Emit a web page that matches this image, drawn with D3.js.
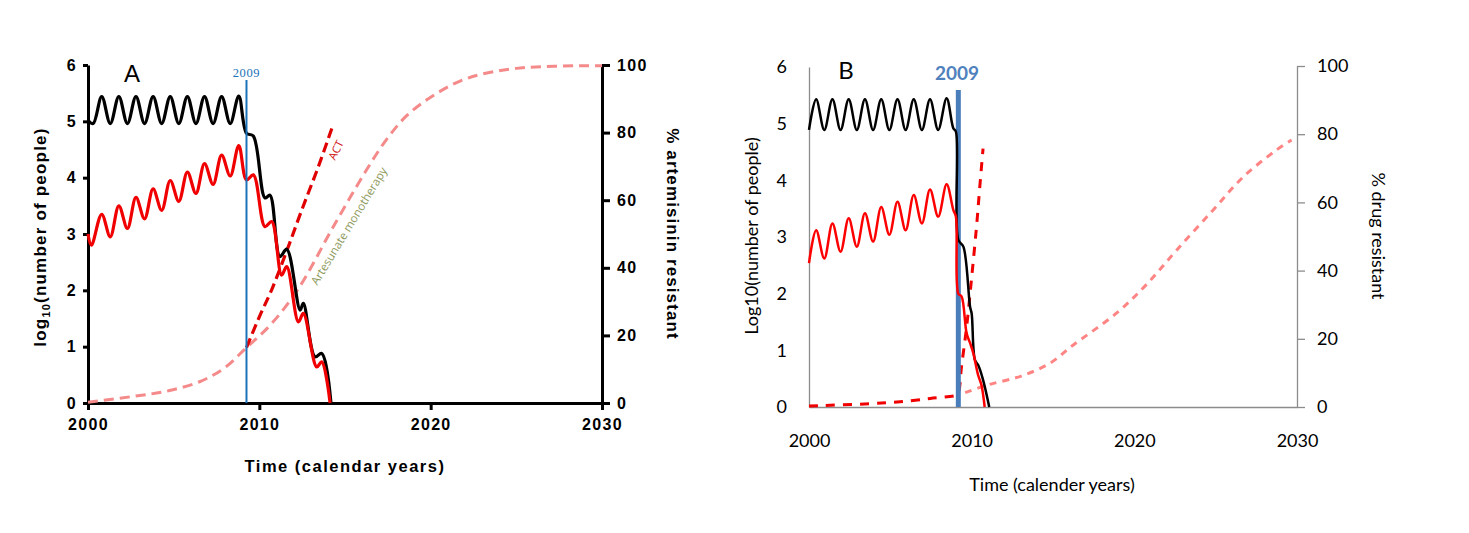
<!DOCTYPE html>
<html>
<head>
<meta charset="utf-8">
<script src="https://cdn.jsdelivr.net/npm/d3@7"></script>
<style>
  body { margin: 0; background: #fff; }
  .pa text { font-family: "Liberation Sans", Arial, sans-serif; }
  .pb text { font-family: Lato, "Open Sans", sans-serif; }
</style>
</head>
<body>
<div class="canvas"></div>
<script>
// ---- data ----
// panel A : log10(number of people), left axis
const aBlackYears = [2000, 2000.3, 2000.8, 2001.3, 2001.8, 2002.3, 2002.8, 2003.3, 2003.8, 2004.3, 2004.8, 2005.3, 2005.8, 2006.3, 2006.8, 2007.3, 2007.8, 2008.3, 2008.8, 2009.25, 2009.65, 2010.33, 2010.62, 2011.2, 2011.6, 2012.38, 2012.57, 2013.25, 2013.64, 2014.18]
const aBlack = [5.02, 4.96, 5.44, 4.96, 5.44, 4.96, 5.44, 4.96, 5.44, 4.96, 5.44, 4.96, 5.44, 4.96, 5.44, 4.96, 5.44, 4.96, 5.45, 4.79, 4.74, 3.64, 3.69, 2.6, 2.73, 1.65, 1.77, 0.82, 0.88, 0]
const aRedYears = [2000, 2000.2, 2000.8, 2001.3, 2001.8, 2002.3, 2002.8, 2003.3, 2003.8, 2004.3, 2004.8, 2005.3, 2005.8, 2006.3, 2006.8, 2007.3, 2007.8, 2008.3, 2008.8, 2009.25, 2009.65, 2010.33, 2010.72, 2011.3, 2011.6, 2012.28, 2012.57, 2013.35, 2013.64, 2014.13]
const aRed = [3.0, 2.8, 3.35, 2.95, 3.5, 3.1, 3.65, 3.27, 3.8, 3.42, 3.95, 3.58, 4.1, 3.72, 4.25, 3.88, 4.4, 4.03, 4.57, 3.96, 4.05, 3.13, 3.22, 2.27, 2.42, 1.44, 1.59, 0.64, 0.73, 0]
// panel A : % resistant, right axis
const aActYears = [2009.25, 2010, 2010.72, 2011.6, 2012.47, 2013.45, 2014.23]
const aAct = [16.4, 25.5, 33.5, 45, 57, 70, 81.2]
const aMonoYears = [2000, 2002.7, 2004.7, 2006.6, 2008, 2009.25, 2010.7, 2012.3, 2014.3, 2016.26, 2017.43, 2018.6, 2020.16, 2022.1, 2025, 2030]
const aMono = [0.2, 2, 3.6, 6.5, 10.5, 16.4, 23.4, 34, 52, 69, 78, 85, 91, 96, 99, 99.8]

// panel B : log10(number of people), left axis
const bBlackYears = [2000, 2000.44, 2000.94, 2001.44, 2001.94, 2002.44, 2002.94, 2003.44, 2003.94, 2004.44, 2004.94, 2005.44, 2005.94, 2006.44, 2006.94, 2007.44, 2007.94, 2008.46, 2008.87, 2009.03, 2009.18, 2009.49, 2009.9, 2010.0, 2010.2, 2010.4, 2010.7, 2011.08]
const bBlack = [4.89, 5.43, 4.89, 5.43, 4.89, 5.43, 4.89, 5.43, 4.89, 5.43, 4.89, 5.43, 4.89, 5.43, 4.89, 5.43, 4.89, 5.45, 4.92, 4.86, 2.95, 2.83, 1.77, 1.65, 0.83, 0.74, 0.48, 0]
const bRedYears = [2000, 2000.44, 2000.94, 2001.44, 2001.94, 2002.44, 2002.94, 2003.44, 2003.94, 2004.44, 2004.94, 2005.44, 2005.94, 2006.44, 2006.94, 2007.44, 2007.94, 2008.46, 2008.87, 2009.03, 2009.18, 2009.38, 2009.69, 2009.9, 2010.1, 2010.4, 2010.6, 2010.8]
const bRed = [2.54, 3.12, 2.62, 3.24, 2.74, 3.33, 2.83, 3.42, 2.92, 3.53, 3.04, 3.62, 3.12, 3.74, 3.24, 3.84, 3.36, 3.93, 3.48, 3.36, 2.0, 1.95, 1.3, 1.13, 0.95, 0.56, 0.39, 0]
// panel B : % resistant, right axis
const bActYears = [2000, 2005, 2007.45, 2009.07, 2009.18, 2009.38, 2009.69, 2010, 2010.3, 2010.5, 2010.7]
const bAct = [0.3, 1.3, 2.5, 3.5, 4, 12, 23.5, 38, 53, 64.6, 75.8]
const bMonoYears = [2009.6, 2011, 2013, 2014.8, 2016.25, 2018.9, 2020.76, 2022.6, 2024.85, 2026.7, 2028.75, 2029.67]
const bMono = [4.2, 6.5, 9, 12.8, 18.2, 27.5, 36, 46, 57.8, 67.5, 75.4, 78.3]

// ticks
const yearTicks = [2000, 2010, 2020, 2030]
const logTicks = [0, 1, 2, 3, 4, 5, 6]
const pctTicks = [0, 20, 40, 60, 80, 100]
const aMarkYear = 2009.25
const bMarkYear = 2009.18

const zip = (xs, ys) => xs.map((x, i) => ({ x, y: ys[i] }))
const smooth = d3.curveCatmullRom.alpha(0.5)

const svg = d3.select('.canvas')
    .append('svg')
    .attr('width', 1469)
    .attr('height', 533)

// ================= panel A =================
const pa = svg.append('g').attr('class', 'pa')

const xA = d3.scaleLinear().domain([2000, 2030]).range([88, 602])
const yA = d3.scaleLinear().domain([0, 6]).range([403, 65])
const rA = d3.scaleLinear().domain([0, 100]).range([403, 65])

const lineA = d3.line().x(d => xA(d.x)).y(d => yA(d.y)).curve(smooth)
const pctA = d3.line().x(d => xA(d.x)).y(d => rA(d.y)).curve(smooth)

// axes
pa.append('g').attr('transform', 'translate(0,403)')
    .call(d3.axisBottom(xA).tickValues(yearTicks).tickFormat(d3.format('d')).tickSize(7).tickSizeOuter(0).tickPadding(9))
pa.append('g').attr('transform', 'translate(88,0)')
    .call(d3.axisLeft(yA).tickValues(logTicks).tickFormat(d3.format('d')).tickSize(5).tickSizeOuter(0).tickPadding(6))
pa.append('g').attr('transform', 'translate(602,0)')
    .call(d3.axisRight(rA).tickValues(pctTicks).tickFormat(d3.format('d')).tickSize(8).tickSizeOuter(0).tickPadding(7))

pa.selectAll('.domain, .tick line')
    .attr('stroke', '#000')
    .attr('stroke-width', 3)
pa.selectAll('.tick text')
    .attr('fill', '#000')
    .style('font-size', '16px')
    .style('font-weight', 'bold')
    .style('letter-spacing', '1.3px')
    .style('font-family', '"Liberation Sans", Arial, sans-serif')

// series
pa.append('path')
    .attr('d', pctA(zip(aMonoYears, aMono)))
    .attr('fill', 'none')
    .attr('stroke', '#f48a8a')
    .attr('stroke-width', 3)
    .attr('stroke-dasharray', '10 6')

pa.append('path')
    .attr('d', pctA(zip(aActYears, aAct)))
    .attr('fill', 'none')
    .attr('stroke', '#e00000')
    .attr('stroke-width', 3.2)
    .attr('stroke-dasharray', '10 5')

pa.append('path')
    .attr('d', lineA(zip(aBlackYears, aBlack)))
    .attr('fill', 'none')
    .attr('stroke', '#000')
    .attr('stroke-width', 3.2)

pa.append('path')
    .attr('d', lineA(zip(aRedYears, aRed)))
    .attr('fill', 'none')
    .attr('stroke', '#f00000')
    .attr('stroke-width', 3.2)

// 2009 marker
pa.append('line')
    .attr('x1', xA(aMarkYear)).attr('x2', xA(aMarkYear))
    .attr('y1', 80).attr('y2', 403)
    .attr('stroke', '#1b72b8')
    .attr('stroke-width', 2)
pa.append('text')
    .attr('x', xA(aMarkYear)).attr('y', 77)
    .attr('text-anchor', 'middle')
    .style('font-family', '"Liberation Serif", serif')
    .style('font-size', '12.5px')
    .style('letter-spacing', '0.6px')
    .attr('fill', '#1b72b8')
    .text('2009')

// line labels
pa.append('text')
    .attr('transform', 'translate(336,150) rotate(-64)')
    .attr('text-anchor', 'middle')
    .attr('dy', '0.35em')
    .style('font-family', '"Open Sans", sans-serif')
    .style('font-size', '11px')
    .attr('fill', '#d01010')
    .text('ACT')
pa.append('text')
    .attr('transform', 'translate(349,226) rotate(-58.7)')
    .attr('text-anchor', 'middle')
    .attr('dy', '0.35em')
    .style('font-family', '"Open Sans", sans-serif')
    .style('font-size', '11.5px')
    .attr('fill', '#8e9a5c')
    .text('Artesunate monotherapy')

// panel letter + titles
pa.append('text')
    .attr('x', 132).attr('y', 82)
    .attr('text-anchor', 'middle')
    .style('font-size', '24px')
    .text('A')

pa.append('text')
    .attr('x', 345).attr('y', 472)
    .attr('text-anchor', 'middle')
    .style('font-size', '16.5px')
    .style('font-weight', 'bold')
    .style('letter-spacing', '1.5px')
    .text('Time (calendar years)')

const ylabA = pa.append('text')
    .attr('transform', 'translate(46,237) rotate(-90)')
    .attr('text-anchor', 'middle')
    .style('font-size', '17px')
    .style('font-weight', 'bold')
    .style('letter-spacing', '1.2px')
ylabA.append('tspan').text('log')
ylabA.append('tspan').text('10').style('font-size', '11px').attr('dy', 4)
ylabA.append('tspan').text('(number of people)').attr('dy', -4)

pa.append('text')
    .attr('transform', 'translate(667,234) rotate(90)')
    .attr('text-anchor', 'middle')
    .style('font-size', '17px')
    .style('font-weight', 'bold')
    .style('letter-spacing', '1.1px')
    .text('% artemisinin resistant')

// ================= panel B =================
const pb = svg.append('g').attr('class', 'pb')

const xB = d3.scaleLinear().domain([2000, 2030]).range([809, 1297])
const yB = d3.scaleLinear().domain([0, 6]).range([407, 67])
const rB = d3.scaleLinear().domain([0, 100]).range([407, 66])

const lineB = d3.line().x(d => xB(d.x)).y(d => yB(d.y)).curve(smooth)
const pctB = d3.line().x(d => xB(d.x)).y(d => rB(d.y)).curve(smooth)

pb.append('g').attr('transform', 'translate(0,407)')
    .call(d3.axisBottom(xB).tickValues(yearTicks).tickFormat(d3.format('d')).tickSize(0).tickPadding(27))
pb.append('g').attr('transform', 'translate(809,0)')
    .call(d3.axisLeft(yB).tickValues(logTicks).tickFormat(d3.format('d')).tickSize(0).tickPadding(22))
pb.append('g').attr('transform', 'translate(1297,0)')
    .call(d3.axisRight(rB).tickValues(pctTicks).tickFormat(d3.format('d')).tickSize(8).tickSizeOuter(0).tickPadding(12))

pb.selectAll('.domain, .tick line')
    .attr('stroke', '#8c8c8c')
    .attr('stroke-width', 1.3)
pb.selectAll('.tick text')
    .attr('fill', '#000')
    .style('font-size', '18px')
    .style('font-family', 'Lato, "Open Sans", sans-serif')

pb.append('path')
    .attr('d', pctB(zip(bMonoYears, bMono)))
    .attr('fill', 'none')
    .attr('stroke', '#ff8585')
    .attr('stroke-width', 3)
    .attr('stroke-dasharray', '7 6')

pb.append('path')
    .attr('d', pctB(zip(bActYears, bAct)))
    .attr('fill', 'none')
    .attr('stroke', '#f00000')
    .attr('stroke-width', 3)
    .attr('stroke-dasharray', '9 8')

pb.append('line')
    .attr('x1', xB(bMarkYear)).attr('x2', xB(bMarkYear))
    .attr('y1', 90).attr('y2', 407)
    .attr('stroke', '#4a7ebb')
    .attr('stroke-width', 5)

pb.append('path')
    .attr('d', lineB(zip(bBlackYears, bBlack)))
    .attr('fill', 'none')
    .attr('stroke', '#000')
    .attr('stroke-width', 2.5)

pb.append('path')
    .attr('d', lineB(zip(bRedYears, bRed)))
    .attr('fill', 'none')
    .attr('stroke', '#ff0000')
    .attr('stroke-width', 2.5)

pb.append('text')
    .attr('x', 957).attr('y', 80)
    .attr('text-anchor', 'middle')
    .style('font-size', '19px')
    .style('font-weight', 'bold')
    .attr('fill', '#4f81bd')
    .text('2009')

pb.append('text')
    .attr('x', 846).attr('y', 79)
    .attr('text-anchor', 'middle')
    .style('font-size', '24px')
    .text('B')

pb.append('text')
    .attr('x', 1052).attr('y', 491)
    .attr('text-anchor', 'middle')
    .style('font-size', '18px')
    .text('Time (calender years)')

pb.append('text')
    .attr('transform', 'translate(752,236) rotate(-90)')
    .attr('text-anchor', 'middle')
    .attr('dy', '0.35em')
    .style('font-size', '18px')
    .text('Log10(number of people)')

pb.append('text')
    .attr('transform', 'translate(1378,236) rotate(90)')
    .attr('text-anchor', 'middle')
    .attr('dy', '0.35em')
    .style('font-size', '18px')
    .text('% drug resistant')
</script>
</body>
</html>
